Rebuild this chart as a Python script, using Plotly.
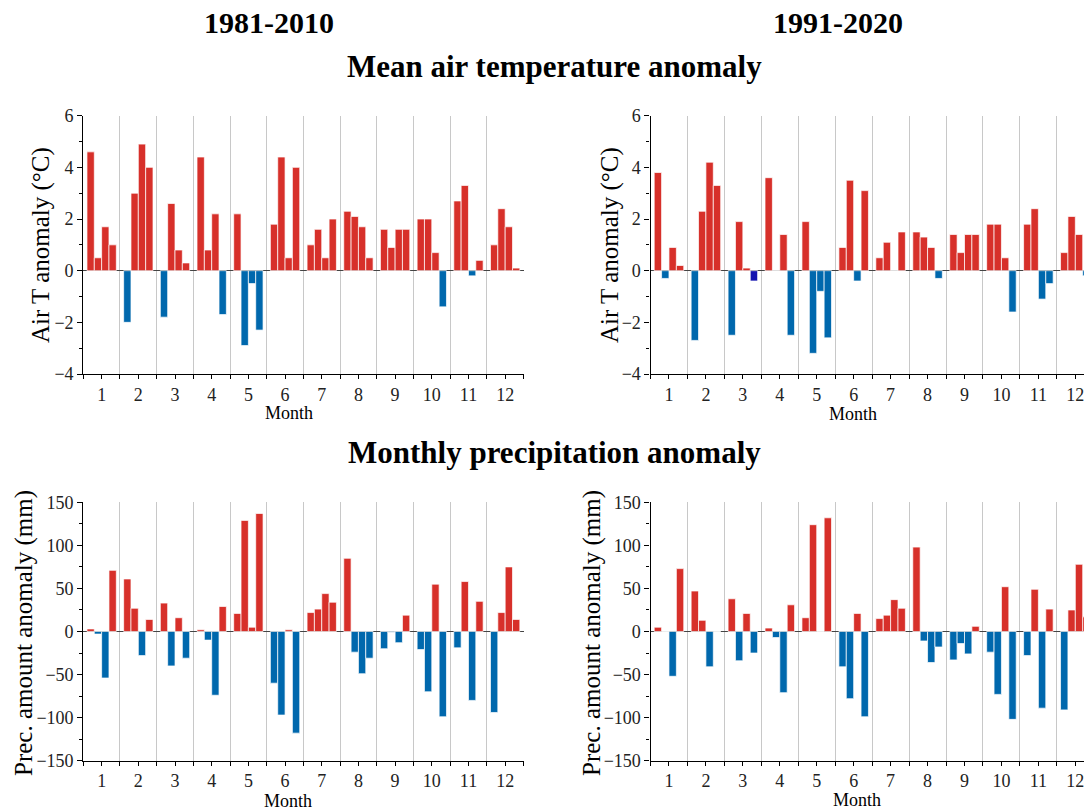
import plotly.graph_objects as go
from plotly.subplots import make_subplots

months = list(range(1, 13))
month_labels = [str(m) for m in months]
series_names = ["Year 1", "Year 2", "Year 3", "Year 4"]

# rows = months 1..12, columns = the four bars of each month
temp_1981_2010 = [
    [4.6, 0.5, 1.7, 1.0],
    [-2.0, 3.0, 4.9, 4.0],
    [-1.8, 2.6, 0.8, 0.3],
    [4.4, 0.8, 2.2, -1.7],
    [2.2, -2.9, -0.5, -2.3],
    [1.8, 4.4, 0.5, 4.0],
    [1.0, 1.6, 0.5, 2.0],
    [2.3, 2.1, 1.7, 0.5],
    [1.6, 0.9, 1.6, 1.6],
    [2.0, 2.0, 0.7, -1.4],
    [2.7, 3.3, -0.2, 0.4],
    [1.0, 2.4, 1.7, 0.1],
]
temp_1991_2020 = [
    [3.8, -0.3, 0.9, 0.2],
    [-2.7, 2.3, 4.2, 3.3],
    [-2.5, 1.9, 0.1, -0.4],
    [3.6, 0.0, 1.4, -2.5],
    [1.9, -3.2, -0.8, -2.6],
    [0.9, 3.5, -0.4, 3.1],
    [0.5, 1.1, 0.0, 1.5],
    [1.5, 1.3, 0.9, -0.3],
    [1.4, 0.7, 1.4, 1.4],
    [1.8, 1.8, 0.5, -1.6],
    [1.8, 2.4, -1.1, -0.5],
    [0.7, 2.1, 1.4, -0.2],
]
prec_1981_2010 = [
    [3, -3, -54, 71],
    [61, 27, -28, 14],
    [33, -40, 16, -31],
    [2, -10, -74, 29],
    [21, 129, 5, 137],
    [-60, -97, 2, -118],
    [22, 26, 44, 34],
    [85, -24, -49, -31],
    [-20, -1, -13, 19],
    [-21, -70, 55, -99],
    [-19, 58, -80, 35],
    [-94, 22, 75, 14],
]
prec_1991_2020 = [
    [5, 0, -52, 73],
    [47, 13, -41, 0],
    [38, -34, 21, -25],
    [4, -7, -71, 31],
    [16, 124, 0, 132],
    [-41, -78, 21, -99],
    [15, 19, 37, 27],
    [98, -11, -36, -18],
    [-33, -14, -26, 6],
    [-24, -73, 52, -102],
    [-28, 49, -89, 26],
    [-91, 25, 78, 17],
]
# bar drawn in a distinct dark blue: (panel, month, series index)
highlight_bars = [("temp_1991_2020", 3, 3)]

RED = "#d7302a"
BLUE = "#0068ad"
DARK_BLUE = "#1414b0"
FONT = "Liberation Serif"

panels = [
    ("temp_1981_2010", temp_1981_2010, 1, 1),
    ("temp_1991_2020", temp_1991_2020, 1, 2),
    ("prec_1981_2010", prec_1981_2010, 2, 1),
    ("prec_1991_2020", prec_1991_2020, 2, 2),
]

fig = make_subplots(rows=2, cols=2)

for pname, data, r, c in panels:
    for j, name in enumerate(series_names):
        vals = [row[j] for row in data]
        cols = []
        for mi, v in enumerate(vals):
            if (pname, mi + 1, j) in highlight_bars:
                cols.append(DARK_BLUE)
            else:
                cols.append(RED if v > 0 else BLUE)
        fig.add_trace(
            go.Bar(
                x=months, y=vals, name=name, showlegend=False,
                marker=dict(color=cols, line=dict(color="rgba(255,255,255,0.7)", width=1)),
            ),
            row=r, col=c,
        )

FW, FH = 1084, 811
def px_x(x):
    return x / FW
def px_y(y):
    return 1 - y / FH

left_dom = [px_x(83.3), px_x(523.5)]
right_dom = [px_x(650.5), 1.0]
top_dom = [px_y(374.0), px_y(115.7)]
bot_dom = [px_y(760.7), px_y(502.3)]

minor_x = dict(tickvals=[m + 0.5 for m in range(0, 13)], ticks="outside", ticklen=4,
               tickcolor="black", tickwidth=1, showgrid=True, gridcolor="#c8c8c8", gridwidth=1)

xcommon = dict(tickvals=months, ticktext=month_labels, ticks="outside", ticklen=4,
               tickcolor="black", tickwidth=1, showline=True, linecolor="black", linewidth=1.2,
               showgrid=False, zeroline=False, minor=minor_x, automargin=False,
               ticklabeloverflow="allow",
               tickfont=dict(family=FONT, size=18, color="#222"))

fig.update_xaxes(**xcommon)
fig.update_xaxes(domain=left_dom, range=[0.5, 12.5], row=1, col=1)
fig.update_xaxes(domain=right_dom, range=[0.5, 12.235], row=1, col=2)
fig.update_xaxes(domain=left_dom, range=[0.5, 12.5], row=2, col=1)
fig.update_xaxes(domain=right_dom, range=[0.5, 12.235], row=2, col=2)

ycommon = dict(ticks="outside", ticklen=5, tickcolor="black", tickwidth=1, showline=True,
               linecolor="black", linewidth=1.2, showgrid=False, automargin=False,
               zeroline=True, zerolinecolor="#444", zerolinewidth=1.3,
               tickfont=dict(family=FONT, size=18, color="#222"))
fig.update_yaxes(**ycommon)
for c in (1, 2):
    fig.update_yaxes(domain=top_dom, range=[-4, 6], tickvals=[-4, -2, 0, 2, 4, 6],
                     minor=dict(tickvals=[-3, -1, 1, 3, 5], ticks="outside", ticklen=3,
                                tickcolor="black"), row=1, col=c)
    fig.update_yaxes(domain=bot_dom, range=[-150, 150],
                     tickvals=[-150, -100, -50, 0, 50, 100, 150],
                     minor=dict(tickvals=[-125, -75, -25, 25, 75, 125], ticks="outside",
                                ticklen=3, tickcolor="black"), row=2, col=c)

annotations = []
def ann(text, x, y, size, bold=False, angle=0):
    annotations.append(dict(
        text=f"<b>{text}</b>" if bold else text, x=px_x(x), y=px_y(y),
        xref="paper", yref="paper", showarrow=False, xanchor="center", yanchor="middle",
        textangle=angle, font=dict(family=FONT, size=size, color="black")))

ann("1981-2010", 269, 22, 30, bold=True)
ann("1991-2020", 838, 22, 30, bold=True)
ann("Mean air temperature anomaly", 554, 67, 31, bold=True)
ann("Monthly precipitation anomaly", 554, 452, 31, bold=True)
ann("Air T anomaly (°C)", 41, 245, 25, angle=-90)
ann("Air T anomaly (°C)", 610, 245, 25, angle=-90)
ann("Prec. amount anomaly (mm)", 24, 633, 25, angle=-90)
ann("Prec. amount anomaly (mm)", 592, 633, 25, angle=-90)
ann("Month", 289, 413, 18)
ann("Month", 853, 414, 18)
ann("Month", 288, 801, 18)
ann("Month", 857, 800, 18)

fig.update_layout(
    template="none",
    width=FW, height=FH, margin=dict(l=0, r=0, t=0, b=0, autoexpand=False),
    paper_bgcolor="white", plot_bgcolor="white",
    barmode="group", bargap=0.2, bargroupgap=0,
    annotations=annotations, showlegend=False,
    font=dict(family=FONT),
)

fig.write_html(
    "out.html",
    config={"displayModeBar": False},
    post_script="document.body.style.margin='0';document.body.style.overflow='hidden';",
)
